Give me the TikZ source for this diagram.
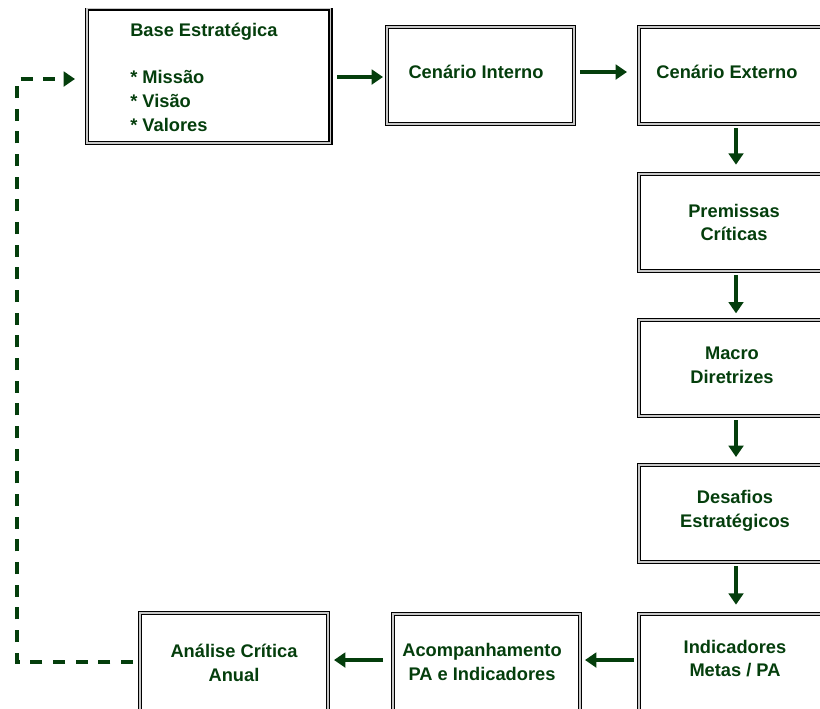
\documentclass[tikz,border=0pt]{standalone}
\usepackage{fontspec}
\setmainfont{Liberation Sans}
\usetikzlibrary{arrows.meta,fit}
\definecolor{leaf}{RGB}{4,62,12}
\tikzset{
  box/.style={draw=black, line width=1.1pt, double=black!22, double distance=1.2pt,
              inner sep=0pt, outer sep=0pt},
  txt/.style={text=leaf, font=\fontsize{13.7}{17.8}\selectfont\bfseries, align=center, inner sep=0pt},
  flow/.style={draw=leaf, line width=2.6pt, -{Triangle[length=8.5pt,width=11pt]}},
  back/.style={flow, dash pattern=on 9pt off 8pt}
}
\begin{document}
\begin{tikzpicture}[x=0.75pt,y=-0.75pt]
\useasboundingbox (0,0) rectangle (820,708);

% boxes (the first one runs off the top edge)
\begin{scope}
  \clip (0,8) rectangle (820,708);
  \node[box, fit={(87,8.5) (330.5,143)}] (base) {};
\end{scope}
\node[box, fit={(387,27) (574,124)}] (interno) {};
\node[box, fit={(639,27) (840,124)}] (externo) {};
\node[box, fit={(639,174) (840,271)}] (premissas) {};
\node[box, fit={(639,320) (840,416)}] (macro) {};
\node[box, fit={(639,465) (840,562)}] (desafios) {};
\node[box, fit={(639,614) (840,720)}] (indicadores) {};
\node[box, fit={(393,614) (580,720)}] (acomp) {};
\node[box, fit={(140,613) (328,720)}] (analise) {};

% texts
\node[txt, align=left, anchor=west] (tbase) at (130,77)
  {Base Estratégica\\ \mbox{}\\ * Missão\\ * Visão\\ * Valores};
\node[txt] (tinterno) at (476,72) {Cenário Interno};
\node[txt] (texterno) at (727,72) {Cenário Externo};
\node[txt] (tpremissas) at (734,222.5) {Premissas\\Críticas};
\node[txt] (tmacro) at (732,365.5) {Macro\\Diretrizes};
\node[txt] (tdesafios) at (735,511) {Desafios\\Estratégicos};
\node[txt] (tindicadores) at (735,658.5) {Indicadores\\Metas / PA};
\node[txt] (tacomp) at (482,662) {Acompanhamento\\PA e Indicadores};
\node[txt] (tanalise) at (234,663) {Análise Crítica\\Anual};

% connectors
\coordinate (s1) at (337,77);   \coordinate (e1) at (383,77);
\coordinate (s2) at (580,72);   \coordinate (e2) at (627,72);
\draw[flow] (s1) -- (e1);
\draw[flow] (s2) -- (e2);
\draw[flow] ([yshift=-3pt]externo.south -| 736,0) -- ([yshift=7pt]premissas.north -| 736,0);
\draw[flow] ([yshift=-3pt]premissas.south -| 736,0) -- ([yshift=5pt]macro.north -| 736,0);
\draw[flow] ([yshift=-3pt]macro.south -| 736,0) -- ([yshift=6pt]desafios.north -| 736,0);
\draw[flow] ([yshift=-3pt]desafios.south -| 736,0) -- ([yshift=7pt]indicadores.north -| 736,0);
\coordinate (s7) at (634,660);  \coordinate (e7) at (585,660);
\coordinate (s8) at (383,660);  \coordinate (e8) at (334,660);
\draw[flow] (s7) -- (e7);
\draw[flow] (s8) -- (e8);

% feedback loop
\coordinate (l0) at (133,662);
\coordinate (l1) at (17,662);
\coordinate (l2) at (17,79);
\coordinate (l3) at (75,79);
\draw[back] (l0) -- (l1) -- (l2) -- (l3);
\end{tikzpicture}
\end{document}
